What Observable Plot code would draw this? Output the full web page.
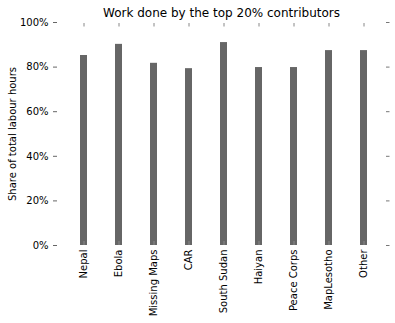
<!DOCTYPE html>
<html>
<head>
<meta charset="utf-8">
<script src="https://cdn.jsdelivr.net/npm/d3@7"></script>
<script src="https://cdn.jsdelivr.net/npm/@observablehq/plot@0.6"></script>
<style>
  html, body { margin: 0; padding: 0; background: #fff; }
  svg { display: block; }
</style>
</head>
<body>
<div id="chart"></div>
<script>
const categories = ["Nepal", "Ebola", "Missing Maps", "CAR", "South Sudan", "Haiyan", "Peace Corps", "MapLesotho", "Other"];
const shares = [85.2, 90.2, 81.7, 79.3, 91.0, 79.8, 79.8, 87.4, 87.4];
const yTicks = [0, 20, 40, 60, 80, 100];
const title = "Work done by the top 20% contributors";
const yLabel = "Share of total labour hours";

const data = categories.map((c, i) => ({category: c, share: shares[i]}));

const chart = Plot.plot({
  width: 395,
  height: 323,
  marginTop: 22,
  marginBottom: 78,
  marginLeft: 57,
  marginRight: 10,
  style: {fontFamily: "DejaVu Sans", fontSize: "10px", background: "#fff", color: "#000"},
  x: {domain: categories, range: [65.5, 381.5], paddingInner: 0.8, paddingOuter: 0.4, label: null},
  y: {domain: [0, 100], label: null},
  marks: [
    Plot.barY(data, {x: "category", y: "share", fill: "#666666"}),
    Plot.axisY({anchor: "left", ticks: yTicks, tickSize: 4, tickPadding: 5, tickFormat: d => d + "%", stroke: "#666", label: null}),
    Plot.axisY({anchor: "right", ticks: yTicks, tickSize: 3.5, tickFormat: () => "", stroke: "#777", label: null}),
    Plot.axisX({anchor: "top", tickSize: -3.5, tickFormat: () => "", stroke: "#888", label: null}),
    Plot.axisX({anchor: "bottom", tickSize: -4, tickFormat: () => "", stroke: "#888", label: null}),
    Plot.axisX({anchor: "bottom", tickSize: 0, tickPadding: 4, tickRotate: -90, label: null}),
    Plot.text([title], {frameAnchor: "top", dy: -9, lineAnchor: "middle", textAnchor: "middle", fontSize: 12, text: d => d}),
    Plot.text([yLabel], {frameAnchor: "left", dx: -45, rotate: -90, textAnchor: "middle", lineAnchor: "middle", fontSize: 10, text: d => d})
  ]
});
document.getElementById("chart").appendChild(chart);
</script>
</body>
</html>
